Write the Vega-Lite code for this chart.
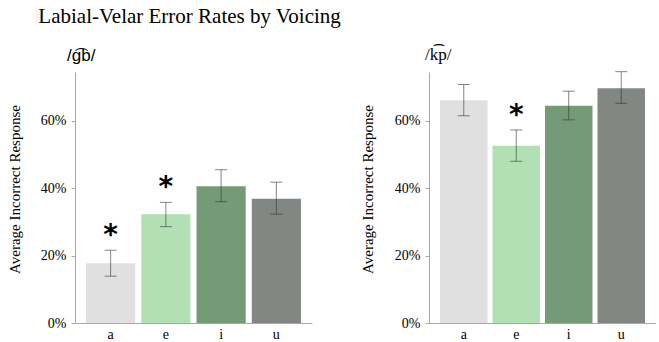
{
  "$schema": "https://vega.github.io/schema/vega-lite/v6.json",
  "padding": {"left": 7, "top": 6, "right": 0, "bottom": 0},
  "background": "white",
  "title": {"text": "Labial-Velar Error Rates by Voicing", "anchor": "start", "font": "Liberation Serif", "fontSize": 21, "fontWeight": "normal", "color": "black", "dx": 31, "offset": 19},
  "config": {
    "view": {"stroke": null},
    "axis": {"grid": false, "labelFont": "Liberation Serif", "labelFontSize": 14, "labelColor": "black", "titleFont": "Liberation Serif", "titleFontSize": 15, "titleFontWeight": "normal", "titleColor": "black", "domainColor": "#a8a8a8", "tickColor": "#a8a8a8"}
  },
  "datasets": {
    "d": [
      {"panel": "gb", "vowel": "a", "mean": 0.177, "lo": 0.139, "hi": 0.216, "sig": "*"},
      {"panel": "gb", "vowel": "e", "mean": 0.323, "lo": 0.286, "hi": 0.358, "sig": "*"},
      {"panel": "gb", "vowel": "i", "mean": 0.406, "lo": 0.360, "hi": 0.455, "sig": ""},
      {"panel": "gb", "vowel": "u", "mean": 0.369, "lo": 0.323, "hi": 0.418, "sig": ""},
      {"panel": "kp", "vowel": "a", "mean": 0.661, "lo": 0.615, "hi": 0.708, "sig": ""},
      {"panel": "kp", "vowel": "e", "mean": 0.526, "lo": 0.480, "hi": 0.573, "sig": "*"},
      {"panel": "kp", "vowel": "i", "mean": 0.645, "lo": 0.603, "hi": 0.688, "sig": ""},
      {"panel": "kp", "vowel": "u", "mean": 0.697, "lo": 0.652, "hi": 0.746, "sig": ""}
    ]
  },
  "spacing": 48,
  "hconcat": [
    {
      "width": 237, "height": 251,
      "data": {"name": "d"},
      "transform": [{"filter": "datum.panel === 'gb'"}],
      "title": {"text": "/g͡b/", "anchor": "start", "frame": "group", "font": "Liberation Sans", "fontSize": 17, "fontWeight": "normal", "color": "black", "dx": -8, "offset": 7},
      "encoding": {
        "x": {"field": "vowel", "type": "nominal", "title": null, "scale": {"paddingInner": 0.11, "paddingOuter": 0.2}, "axis": {"labelAngle": 0, "ticks": false, "labelPadding": 4}}
      },
      "layer": [
        {"mark": {"type": "bar"}, "encoding": {
          "y": {"field": "mean", "type": "quantitative", "scale": {"domain": [0, 0.745], "nice": false}, "axis": {"format": ".0%", "values": [0, 0.2, 0.4, 0.6], "tickSize": 4, "labelPadding": 5, "title": "Average Incorrect Response", "titlePadding": 18, "titleY": 117}},
          "color": {"field": "vowel", "type": "nominal", "legend": null, "scale": {"domain": ["a", "e", "i", "u"], "range": ["#dfe0df", "#b2e0b4", "#749b76", "#838783"]}}
        }},
        {"mark": {"type": "rule", "color": "#333333", "opacity": 0.6, "strokeWidth": 1}, "encoding": {"y": {"field": "lo", "type": "quantitative"}, "y2": {"field": "hi"}}},
        {"mark": {"type": "tick", "orient": "horizontal", "color": "#333333", "opacity": 0.6, "size": 12, "thickness": 1}, "encoding": {"y": {"field": "lo", "type": "quantitative"}}},
        {"mark": {"type": "tick", "orient": "horizontal", "color": "#333333", "opacity": 0.6, "size": 12, "thickness": 1}, "encoding": {"y": {"field": "hi", "type": "quantitative"}}},
        {"transform": [{"filter": "datum.sig === '*'"}], "mark": {"type": "text", "font": "DejaVu Sans", "fontSize": 28, "fontWeight": "bold", "baseline": "alphabetic", "dy": -6, "color": "black"}, "encoding": {"y": {"field": "hi", "type": "quantitative"}, "text": {"field": "sig"}}}
      ]
    },
    {
      "width": 227, "height": 251,
      "data": {"name": "d"},
      "transform": [{"filter": "datum.panel === 'kp'"}],
      "title": {"text": "/k͡p/", "anchor": "start", "frame": "group", "font": "Liberation Serif", "fontSize": 17, "fontWeight": "normal", "color": "black", "dx": -4, "offset": 7},
      "encoding": {
        "x": {"field": "vowel", "type": "nominal", "title": null, "scale": {"paddingInner": 0.095, "paddingOuter": 0.21}, "axis": {"labelAngle": 0, "ticks": false, "labelPadding": 4}}
      },
      "layer": [
        {"mark": {"type": "bar"}, "encoding": {
          "y": {"field": "mean", "type": "quantitative", "scale": {"domain": [0, 0.745], "nice": false}, "axis": {"format": ".0%", "values": [0, 0.2, 0.4, 0.6], "tickSize": 4, "labelPadding": 5, "title": "Average Incorrect Response", "titlePadding": 19, "titleY": 117}},
          "color": {"field": "vowel", "type": "nominal", "legend": null, "scale": {"domain": ["a", "e", "i", "u"], "range": ["#dfe0df", "#b2e0b4", "#749b76", "#838783"]}}
        }},
        {"mark": {"type": "rule", "color": "#333333", "opacity": 0.6, "strokeWidth": 1}, "encoding": {"y": {"field": "lo", "type": "quantitative"}, "y2": {"field": "hi"}}},
        {"mark": {"type": "tick", "orient": "horizontal", "color": "#333333", "opacity": 0.6, "size": 12, "thickness": 1}, "encoding": {"y": {"field": "lo", "type": "quantitative"}}},
        {"mark": {"type": "tick", "orient": "horizontal", "color": "#333333", "opacity": 0.6, "size": 12, "thickness": 1}, "encoding": {"y": {"field": "hi", "type": "quantitative"}}},
        {"transform": [{"filter": "datum.sig === '*'"}], "mark": {"type": "text", "font": "DejaVu Sans", "fontSize": 28, "fontWeight": "bold", "baseline": "alphabetic", "dy": -6, "color": "black"}, "encoding": {"y": {"field": "hi", "type": "quantitative"}, "text": {"field": "sig"}}}
      ]
    }
  ]
}
